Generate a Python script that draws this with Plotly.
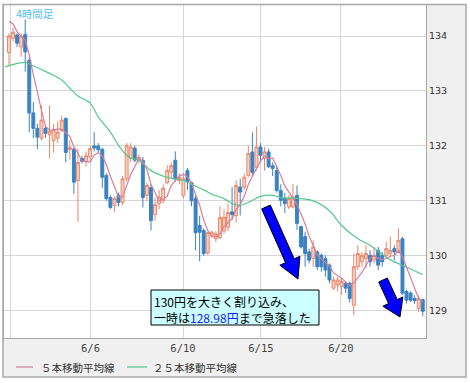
import plotly.graph_objects as go

# ---------------- data ----------------
opens = [133.70, 133.96, 134.02, 133.80, 134.03, 133.56, 132.60, 132.32, 132.14, 132.32,
         132.20, 132.10, 132.14, 132.28, 132.50, 131.93, 131.94, 131.37, 131.77, 131.72,
         131.80, 132.00, 132.00, 131.94, 131.46, 131.06, 130.92, 131.10, 130.97, 131.40,
         131.77, 131.96, 131.74, 131.74, 131.10, 131.24, 130.75, 130.95, 131.00, 131.33,
         131.52, 131.74, 131.37, 131.10, 131.55, 131.33, 131.04, 130.55, 130.46, 130.05,
         130.37, 130.31, 130.33, 130.45, 130.52, 130.80, 130.73, 131.25, 131.25, 131.46,
         131.89, 131.61, 131.98, 131.77, 131.89, 131.64, 131.55, 131.19, 131.05, 130.89,
         130.89, 131.10, 130.53, 130.35, 130.07, 129.95, 130.07, 130.01, 129.95, 129.83,
         129.41, 129.47, 129.44, 129.50, 129.50, 129.10, 129.80, 129.89, 129.95, 130.01,
         129.92, 130.10, 130.01, 130.01, 130.04, 130.13, 130.07, 130.31, 129.35, 129.32,
         129.22, 129.04, 129.20]
highs = [134.05, 134.15, 134.05, 134.05, 134.30, 133.60, 132.80, 132.40, 132.74, 132.38,
         132.74, 132.40, 132.45, 132.55, 132.52, 132.10, 131.96, 131.95, 131.82, 131.90,
         132.00, 132.25, 132.05, 131.96, 131.50, 131.10, 131.08, 131.15, 131.45, 132.05,
         132.05, 132.00, 131.85, 131.80, 131.33, 131.30, 131.06, 131.20, 131.30, 131.65,
         131.70, 131.90, 131.50, 131.50, 131.60, 131.35, 131.10, 130.73, 130.50, 130.44,
         130.46, 130.45, 130.90, 130.85, 130.95, 131.25, 131.38, 131.40, 131.50, 132.00,
         132.25, 132.35, 132.05, 131.98, 131.95, 131.70, 131.65, 131.30, 131.15, 131.10,
         131.31, 131.28, 130.55, 130.44, 130.13, 130.28, 130.10, 130.04, 130.01, 129.86,
         129.62, 129.62, 129.59, 129.53, 129.53, 130.04, 130.19, 130.07, 130.19, 130.10,
         130.16, 130.16, 130.07, 130.25, 130.35, 130.19, 130.50, 130.34, 129.38, 129.35,
         129.28, 129.28, 129.22]
lows = [133.47, 133.90, 133.80, 133.62, 133.35, 132.25, 132.14, 131.94, 132.10, 132.15,
        131.77, 131.88, 132.05, 132.25, 131.70, 131.75, 131.13, 130.62, 131.68, 131.62,
        131.70, 131.90, 131.88, 131.23, 131.00, 130.85, 130.79, 130.90, 130.92, 131.35,
        131.70, 131.70, 131.68, 130.88, 131.00, 130.46, 130.64, 130.85, 130.95, 131.30,
        131.40, 131.35, 131.30, 131.05, 131.20, 130.90, 130.10, 129.90, 130.00, 130.02,
        130.33, 130.25, 130.30, 130.40, 130.45, 130.65, 130.60, 130.73, 131.20, 131.43,
        131.45, 131.55, 131.70, 131.55, 131.60, 131.45, 131.15, 130.90, 130.78, 130.85,
        130.86, 130.47, 130.13, 129.80, 129.86, 129.80, 129.74, 129.71, 129.62, 129.50,
        129.38, 129.35, 129.29, 129.32, 129.15, 128.92, 129.74, 129.80, 129.77, 129.80,
        129.86, 129.74, 129.80, 129.95, 129.98, 129.92, 130.04, 129.29, 129.13, 129.16,
        129.12, 128.98, 128.90]
closes = [134.00, 134.07, 133.87, 134.00, 133.71, 132.60, 132.32, 132.16, 132.47, 132.23,
          132.27, 132.30, 132.25, 132.47, 131.88, 131.97, 131.34, 131.70, 131.72, 131.82,
          131.95, 131.96, 131.93, 131.43, 131.04, 130.88, 131.04, 130.97, 131.40, 132.00,
          131.98, 131.74, 131.79, 131.06, 131.28, 130.64, 130.93, 131.07, 131.23, 131.55,
          131.64, 131.40, 131.43, 131.40, 131.35, 131.00, 130.42, 130.43, 130.04, 130.42,
          130.43, 130.40, 130.70, 130.70, 130.79, 130.75, 131.28, 131.16, 131.43, 131.86,
          131.52, 131.98, 131.83, 131.89, 131.62, 131.59, 131.19, 131.01, 130.95, 131.04,
          131.07, 130.59, 130.16, 130.04, 129.92, 130.16, 129.80, 129.80, 129.74, 129.56,
          129.56, 129.56, 129.53, 129.41, 129.22, 129.80, 130.04, 130.01, 130.04, 129.89,
          130.01, 129.83, 129.89, 130.13, 130.10, 130.07, 130.28, 129.32, 129.19, 129.19,
          129.18, 129.22, 128.99]
bar_idx = list(range(len(closes)))

# 5-bar MA: first values (depend on bars before the window)
ma5_head = [134.27, 134.22, 134.08, 133.99]
# 25-bar MA (bar index, price)
ma25_idx = [-1, 4, 5, 8, 10, 13, 15, 17, 20, 22, 25, 27, 29, 30, 32, 35, 38, 40, 43, 45,
            48, 50, 53, 55, 57, 59, 62, 65, 67, 72, 75, 79, 82, 86, 89, 91, 94, 98, 102]
ma25_val = [133.44, 133.52, 133.49, 133.39, 133.32, 133.20, 133.05, 132.91, 132.78, 132.53,
            132.25, 132.01, 131.83, 131.78, 131.74, 131.55, 131.45, 131.41, 131.37, 131.30,
            131.20, 131.12, 131.04, 130.95, 130.92, 130.97, 131.08, 131.10, 131.06, 131.04,
            131.00, 130.82, 130.55, 130.31, 130.19, 130.08, 129.93, 129.79, 129.66]

x_tick_pos = [0.25, 20.1, 42.9, 62.1, 81.8]
x_tick_text = ["", "6/6", "6/10", "6/15", "6/20"]
y_ticks = [129, 130, 131, 132, 133, 134]

title_text = "4時間足"
legend_names = ["５本移動平均線", "２５本移動平均線"]
note_text = "130円を大きく割り込み、<br>一時は<span style='color:#1a1aff'>128.98円</span>まで急落した"

ma5 = ma5_head + [sum(closes[i - 4:i + 1]) / 5 for i in range(4, len(closes))]

# ---------------- layout geometry ----------------
W, H = 470, 383
L, R, T, B = 4, 44, 5, 45
PW, PH = W - L - R, H - T - B


def px(x):
    return (x - L) / PW


def py(y):
    return (H - B - y) / PH


C_UP_LINE = "#e8866a"
C_UP_FILL = "#fbd2c2"
C_DN = "#3b82c3"
C_MA5 = "#d47f9c"
C_MA25 = "#55c98c"

fig = go.Figure()
fig.add_trace(go.Candlestick(
    x=bar_idx, open=opens, high=highs, low=lows, close=closes,
    increasing=dict(line=dict(color=C_UP_LINE, width=1), fillcolor=C_UP_FILL),
    decreasing=dict(line=dict(color=C_DN, width=1), fillcolor=C_DN),
    whiskerwidth=0, showlegend=False, hoverinfo="skip"))
fig.add_trace(go.Scatter(x=ma25_idx, y=ma25_val, mode="lines", line=dict(color=C_MA25, width=1.2, shape="spline"),
                         showlegend=False, hoverinfo="skip"))
fig.add_trace(go.Scatter(x=bar_idx, y=ma5, mode="lines", line=dict(color=C_MA5, width=1.2),
                         showlegend=False, hoverinfo="skip"))

shapes = []
# gray axis panels
shapes.append(dict(type="rect", xref="paper", yref="paper", x0=1, x1=px(466), y0=py(377), y1=1,
                   fillcolor="#f0f0f0", line=dict(width=0), layer="below"))
shapes.append(dict(type="rect", xref="paper", yref="paper", x0=px(3), x1=1, y0=py(377), y1=0,
                   fillcolor="#f0f0f0", line=dict(width=0), layer="below"))
# outer frame
shapes.append(dict(type="rect", xref="paper", yref="paper", x0=px(3), x1=px(466), y0=py(377), y1=py(4.5),
                   fillcolor="rgba(0,0,0,0)", line=dict(color="#a8a8a8", width=1.5), layer="above"))


def arrow(x0, y0, x1, y1, sw, hw, hl):
    dx, dy = x1 - x0, y1 - y0
    ln = (dx * dx + dy * dy) ** 0.5
    ux, uy = dx / ln, dy / ln
    nx, ny = -uy, ux
    bx, by = x1 - ux * hl, y1 - uy * hl
    pts = [(x0 + nx * sw / 2, y0 + ny * sw / 2), (bx + nx * sw / 2, by + ny * sw / 2),
           (bx + nx * hw / 2, by + ny * hw / 2), (x1, y1),
           (bx - nx * hw / 2, by - ny * hw / 2), (bx - nx * sw / 2, by - ny * sw / 2),
           (x0 - nx * sw / 2, y0 - ny * sw / 2)]
    path = "M " + " L ".join(f"{px(a):.5f},{py(b):.5f}" for a, b in pts) + " Z"
    return dict(type="path", xref="paper", yref="paper", path=path, fillcolor="#0000ff",
                line=dict(color="#000000", width=1), layer="above")


shapes.append(arrow(266, 207, 298, 279, 9.5, 22, 20))
shapes.append(arrow(383, 280, 400, 317, 9.5, 22, 17))

# note box
shapes.append(dict(type="rect", xref="paper", yref="paper", x0=px(151), x1=px(319), y0=py(325), y1=py(290),
                   fillcolor="#ccffff", line=dict(color="#000000", width=1), layer="above"))

# legend samples
shapes.append(dict(type="line", xref="paper", yref="paper", x0=px(16), x1=px(33), y0=py(367), y1=py(367),
                   line=dict(color=C_MA5, width=1.2)))
shapes.append(dict(type="line", xref="paper", yref="paper", x0=px(127), x1=px(147), y0=py(367), y1=py(367),
                   line=dict(color=C_MA25, width=1.2)))

cjk = "Noto Sans CJK JP"
annotations = [
    dict(text=title_text, xref="paper", yref="paper", x=px(14), y=py(13), xanchor="left", yanchor="middle",
         showarrow=False, font=dict(family=cjk, size=10.5, color="#55bdee")),
    dict(text=note_text, xref="paper", yref="paper", x=px(152), y=py(291), xanchor="left", yanchor="top",
         align="left", showarrow=False, font=dict(family=cjk, size=12, color="#000000")),
    dict(text=legend_names[0], xref="paper", yref="paper", x=px(39), y=py(367), xanchor="left", yanchor="middle",
         showarrow=False, font=dict(family=cjk, size=10.5, color="#333333")),
    dict(text=legend_names[1], xref="paper", yref="paper", x=px(151), y=py(367), xanchor="left",
         yanchor="middle", showarrow=False, font=dict(family=cjk, size=10.5, color="#333333")),
]

fig.update_layout(
    width=W, height=H, margin=dict(l=L, r=R, t=T, b=B, pad=0),
    paper_bgcolor="#ffffff", plot_bgcolor="#ffffff",
    boxgap=0.2, boxgroupgap=0.1,
    shapes=shapes, annotations=annotations, showlegend=False,
    xaxis=dict(range=[-1.23, 102.8], tickmode="array", tickvals=x_tick_pos, ticktext=x_tick_text,
               showgrid=True, gridcolor="#d6d6d6", gridwidth=1, zeroline=False,
               showline=True, linecolor="#a8a8a8", linewidth=1, mirror=True, ticks="",
               tickfont=dict(family="DejaVu Sans Mono", size=10.5, color="#444444"),
               rangeslider=dict(visible=False), fixedrange=True),
    yaxis=dict(range=[128.503, 134.565], side="right", tickmode="array", tickvals=y_ticks,
               ticktext=[str(v) for v in y_ticks],
               showgrid=True, gridcolor="#d6d6d6", gridwidth=1, zeroline=False,
               showline=True, linecolor="#a8a8a8", linewidth=1, mirror=True, ticks="",
               tickfont=dict(family="DejaVu Sans", size=9.5, color="#333333"), fixedrange=True),
)

fig.write_html("out.html", config={"displayModeBar": False},
               post_script="document.body.style.margin='0';")
